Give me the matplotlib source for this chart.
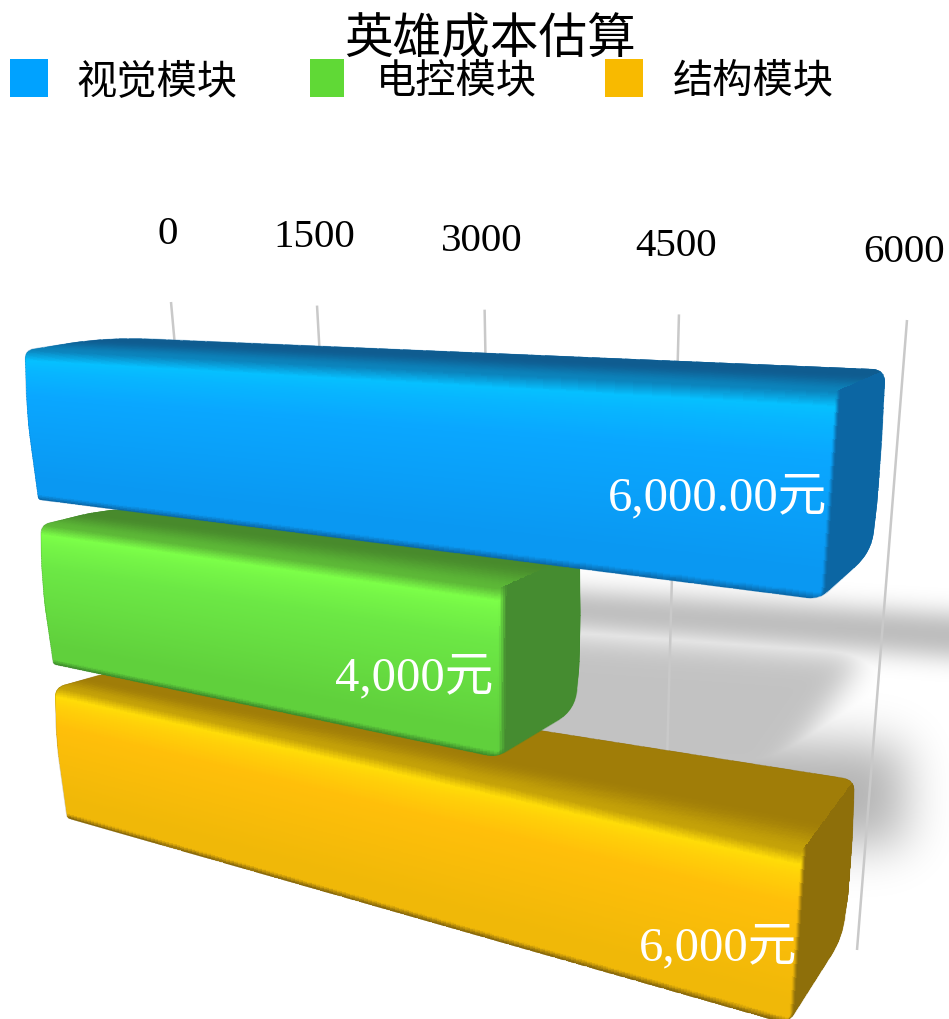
import numpy as np
import matplotlib
matplotlib.use("Agg")
import matplotlib.pyplot as plt
from matplotlib.path import Path
from matplotlib.patches import PathPatch, Rectangle

plt.rcParams['font.family'] = ['Liberation Serif', 'Noto Sans CJK SC']

# ---- chart content ----
title = "英雄成本估算"
categories = ["视觉模块", "电控模块", "结构模块"]
values = [6000, 4000, 6000]
value_labels = ["6,000.00元", "4,000元", "6,000元"]
ticks = [0, 1500, 3000, 4500, 6000]
axis_max = 6000
legend_colors = ["#00A2FF", "#60D936", "#F8BA00"]

W, H = 949, 1019

# per-bar shading: highlight, main, lower, bottom edge, top face, side face
shades = [
    ["#06C0FF", "#0AA7FF", "#0A98F2", "#0A68A8", "#0F5C90", "#0C66A3"],
    ["#7CFF48", "#6CE845", "#60D03C", "#3C8A2A", "#488A2C", "#458C30"],
    ["#FFDC08", "#FFBF0A", "#F0B808", "#85660A", "#A07D08", "#8E6F0A"],
]
top_fade = [0.8, 0.6, 0.42]
label_nudge = [(0, 0), (-4, 3), (3, 8)]

# ---- perspective planes (value fraction, band position) -> figure pixels ----
def homography(corners):
    src = [(0, 0), (1, 0), (1, 1), (0, 1)]
    A, b = [], []
    for (u, t), (x, y) in zip(src, corners):
        A.append([u, t, 1, 0, 0, 0, -u * x, -t * x]); b.append(x)
        A.append([0, 0, 0, u, t, 1, -u * y, -t * y]); b.append(y)
    h = np.linalg.solve(np.array(A, float), np.array(b, float))
    return np.append(h, 1).reshape(3, 3)

def project(M, u, t):
    u, t = np.asarray(u, float), np.asarray(t, float)
    w = M[2, 0] * u + M[2, 1] * t + M[2, 2]
    return ((M[0, 0] * u + M[0, 1] * t + M[0, 2]) / w,
            (M[1, 0] * u + M[1, 1] * t + M[1, 2]) / w)

FRONT = homography([(25, 350), (835, 392), (788, 1024), (67, 818)])
BACK = homography([(110, 337), (885, 370), (843, 937), (138, 795)])
GRID = homography([(171, 302), (907, 320), (857, 950), (215, 790)])

# bands along the category axis
gap = 0.052
band = (1 - 2 * gap) / len(categories)
spans = [(i * (band + gap), i * (band + gap) + band) for i in range(len(categories))]

def hex_rgb(c):
    return np.array(matplotlib.colors.to_rgb(c))

def smooth(x):
    x = np.clip(x, 0, 1)
    return x * x * (3 - 2 * x)

def ramp(t, stops, cols):
    return np.stack([np.interp(t, stops, [c[i] for c in cols]) for i in range(3)], axis=-1)

def front_colour(t, sh):
    cols = [hex_rgb(c) for c in sh]
    stops = [0.0, 0.07, 0.14, 0.30, 0.86, 0.965, 1.0]
    seq = [0.4 * cols[0] + 0.6 * cols[4], cols[0], cols[0] * 0.6 + cols[1] * 0.4,
           cols[1], cols[2], cols[2], cols[3]]
    return ramp(t, stops, seq)

def rounded(points, radii):
    verts, codes = [], []
    n = len(points)
    for i in range(n):
        p = np.array(points[i], float)
        a = np.array(points[i - 1], float)
        b = np.array(points[(i + 1) % n], float)
        la, lb = np.linalg.norm(a - p), np.linalg.norm(b - p)
        r = min(radii[i], 0.49 * la, 0.49 * lb)
        pa = p + (a - p) / la * r
        pb = p + (b - p) / lb * r
        verts.append(pa); codes.append(Path.MOVETO if i == 0 else Path.LINETO)
        verts += [p, pb]; codes += [Path.CURVE3, Path.CURVE3]
    verts.append(verts[0]); codes.append(Path.CLOSEPOLY)
    return Path(verts, codes)

# ---- soft cast shadows, built on a coarse raster and blurred ----
def soft_layer(poly, sigma, alpha, xx, yy, step):
    pts = np.column_stack([xx.ravel(), yy.ravel()])
    mask = Path(poly).contains_points(pts).reshape(xx.shape).astype(float)
    r = int(3 * sigma / step)
    k = np.exp(-0.5 * (np.arange(-r, r + 1) * step / sigma) ** 2)
    k /= k.sum()
    pad = np.pad(mask, r, mode='edge')
    pad = np.apply_along_axis(lambda m: np.convolve(m, k, mode='same'), 0, pad)
    pad = np.apply_along_axis(lambda m: np.convolve(m, k, mode='same'), 1, pad)
    return alpha * pad[r:-r, r:-r]

shadow_blobs = [
    ([(480, 585), (949, 614), (1100, 622), (1100, 662), (949, 656), (480, 622)], 12, 0.28),
    ([(480, 628), (865, 655), (825, 712), (770, 790), (480, 790)], 14, 0.24),
    ([(700, 738), (905, 745), (905, 845), (700, 845)], 24, 0.30),
]

fig = plt.figure(figsize=(W / 100, H / 100), dpi=100)
ax = fig.add_axes([0, 0, 1, 1])
ax.set_axis_off()

step = 2
xs = np.arange(0, W + step, step)
ys = np.arange(0, H + step, step)
xx, yy = np.meshgrid(xs, ys)
density = np.zeros_like(xx, float)
for poly, sigma, alpha in shadow_blobs:
    # overlapping shadows merge instead of darkening each other
    density = np.maximum(density, soft_layer(poly, sigma, alpha, xx, yy, step))
shadow = np.zeros(xx.shape + (4,))
shadow[..., 3] = density
ax.imshow(shadow, extent=(0, W + step, H + step, 0), interpolation='bilinear',
          aspect='auto', zorder=1)

# ---- gridlines and value-axis labels ----
for v in ticks:
    u = v / axis_max
    x, y = project(GRID, [u, u], [0, 1])
    ax.plot(x, y, color="#C9C9C9", lw=1.8, solid_capstyle='butt', zorder=2)
    ax.text(x[0] - 3, y[0] - 68, str(v), fontsize=29.5, color="black",
            ha='center', va='center', zorder=6)

# ---- bars, back to front ----
def draw_bar(value, span, sh, fade, z):
    s0, s1 = span
    u1 = value / axis_max
    sh_rgb = [hex_rgb(c) for c in sh]

    fl = project(FRONT, [0, 0], [s0, s1])
    fr = project(FRONT, [u1, u1], [s0, s1])
    bl = project(BACK, [0, 0], [s0, s1])
    br = project(BACK, [u1, u1], [s0, s1])
    # the long silhouette edges bow out a little on the left and right ends
    left_bow = (fl[0][0] + 0.4 * (fl[0][1] - fl[0][0]) - 4, fl[1][0] + 0.4 * (fl[1][1] - fl[1][0]))
    right_bow = (br[0][0] + 0.5 * (br[0][1] - br[0][0]) + 3, br[1][0] + 0.5 * (br[1][1] - br[1][0]))
    outline = [(fl[0][0], fl[1][0]), (bl[0][0], bl[1][0]), (br[0][0], br[1][0]), right_bow,
               (br[0][1], br[1][1]), (fr[0][1], fr[1][1]), (fl[0][1], fl[1][1]), left_bow]
    path = rounded(outline, [9, 40, 12, 200, 22, 12, 3, 200])
    clip = PathPatch(path, fc='none', ec='none', transform=ax.transData, zorder=z)
    ax.add_patch(clip)

    nu, nd, nt = 160, 50, 200
    # shaded surfaces overrun the corners slightly; the clip trims them to the outline
    U = np.linspace(-0.012, u1, nu + 1)
    T = np.linspace(0, 1, nt + 1)
    D = np.linspace(0, 1.05, nd + 1)

    # top face
    ug, dg = np.meshgrid(U, D)
    fx, fy = project(FRONT, ug, s0)
    bx, by = project(BACK, ug, s0)
    X, Y = fx + (bx - fx) * dg, fy + (by - fy) * dg
    dm = 0.5 * (D[:-1] + D[1:])
    start = 0.4 * sh_rgb[0] + 0.6 * sh_rgb[4]
    mix = smooth(dm / fade)[:, None, None]
    C = (start * (1 - mix) + sh_rgb[4] * mix) * np.ones((nd, nu, 3))
    m = ax.pcolormesh(X, Y, C, shading='flat', antialiased=False, zorder=z)
    m.set_clip_path(clip)

    # front face
    ug, tg = np.meshgrid(U, T)
    X, Y = project(FRONT, ug, s0 + (s1 - s0) * tg)
    tm = 0.5 * (T[:-1] + T[1:])
    C = front_colour(tm, sh)[:, None, :] * np.ones((nt, nu, 3))
    m = ax.pcolormesh(X, Y, C, shading='flat', antialiased=False, zorder=z)
    m.set_clip_path(clip)

    # right-hand end face
    dg, tg = np.meshgrid(D, T)
    fx, fy = project(FRONT, u1, s0 + (s1 - s0) * tg)
    bx, by = project(BACK, u1, s0 + (s1 - s0) * tg)
    X, Y = fx + (bx - fx) * dg, fy + (by - fy) * dg
    mix = smooth(dm / 0.12)[None, :, None]
    C = front_colour(tm, sh)[:, None, :] * (1 - mix) + sh_rgb[5] * mix
    m = ax.pcolormesh(X, Y, C, shading='flat', antialiased=False, zorder=z)
    m.set_clip_path(clip)

    ax.add_patch(PathPatch(path, fc='none', ec=sh_rgb[3], lw=0.5, alpha=0.35, zorder=z))

for i in reversed(range(len(categories))):
    draw_bar(values[i], spans[i], shades[i], top_fade[i], 3 + (len(categories) - i))

# ---- value labels inside the bars ----
for i, lab in enumerate(value_labels):
    s0, s1 = spans[i]
    x, y = project(FRONT, values[i] / axis_max, 0.5 * (s0 + s1))
    ax.text(x + label_nudge[i][0], y + label_nudge[i][1], lab, fontsize=35, color="white",
            ha='right', va='center', zorder=8)

# ---- title and legend ----
ax.text(490, 41, title, fontsize=35, color="black", ha='center', va='center', zorder=9)
swatch_x = [10, 310, 605]
swatch_w = [38, 34, 38]
label_x = [76, 376, 673]
for sx, sw, lx, col, cat in zip(swatch_x, swatch_w, label_x, legend_colors, categories):
    ax.add_patch(Rectangle((sx, 59), sw, 38, fc=col, ec='none', zorder=9))
    ax.text(lx, 83, cat, fontsize=29, color="black", ha='left', va='center', zorder=9)

ax.set_xlim(0, W)
ax.set_ylim(H, 0)
fig.savefig("out.png", dpi=100)
